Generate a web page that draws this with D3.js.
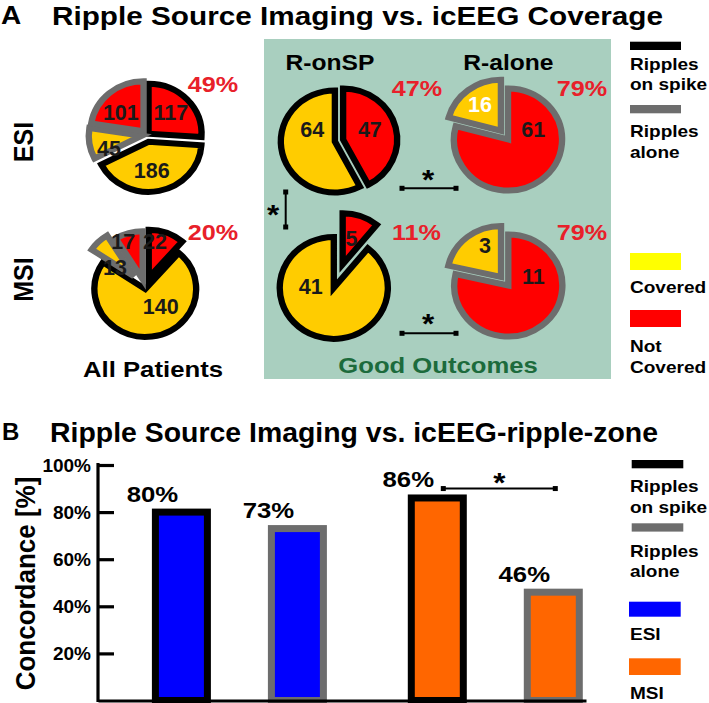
<!DOCTYPE html>
<html><head><meta charset="utf-8">
<script src="https://cdn.jsdelivr.net/npm/d3@7"></script>
<style>
body{margin:0;background:#fff}
svg{display:block}
text{font-family:"Liberation Sans",Arial,sans-serif;font-weight:bold}
</style>
</head><body>
<svg id="c" width="709" height="703"></svg>
<script>
// ---------------- DATA ----------------
// Panel A: slice order = [on-spike not covered, on-spike covered, alone covered, alone not covered]
const allKinds = ["spike", "spike", "alone", "alone"];
const allCoverage = ["not", "covered", "covered", "not"];
const esiAllPatients = [117, 186, 45, 101];
const msiAllPatients = [22, 140, 13, 17];
// Good outcomes: [not covered, covered]
const goodCoverage = ["not", "covered"];
const esiOnSpikeGood = [47, 64];
const esiAloneGood = [61, 16];
const msiOnSpikeGood = [5, 41];
const msiAloneGood = [11, 3];
const pctNotCovered = ["49%", "20%", "47%", "79%", "11%", "79%"];
const rowLabels = ["ESI", "MSI"];
const colLabels = ["R-onSP", "R-alone"];
// Panel B
const groups = ["ESI", "MSI"];
const rippleTypes = ["Ripples on spike", "Ripples alone"];
const concordanceESI = [80, 73];
const concordanceMSI = [86, 46];
const yTicks = [20, 40, 60, 80, 100];

// ---------------- STYLE / LAYOUT ----------------
const SX = 1.12;          // horizontal stretch of text in the original figure
const PSX = 1.06;         // horizontal stretch of pies
const YELLOW = "#ffcc00", RED = "#ff0000", GRAY = "#6d6d6d", BLACK = "#000";
const PCT_RED = "#e8202a";
const svg = d3.select("#c");

function txt(g, x, y, s, size, o = {}) {
  return g.append("text")
    .attr("transform", `translate(${x},${y}) scale(${o.sx ?? SX},1)` + (o.rot ? ` rotate(${o.rot})` : ""))
    .attr("text-anchor", o.anchor || "middle")
    .attr("font-size", size)
    .attr("fill", o.fill || "#000")
    .text(s);
}

// ---------------- PANEL A ----------------
txt(svg, 1, 24, "A", 25, {anchor: "start"});
svg.append("text").attr("x", 52).attr("y", 25).attr("font-size", 26.5)
  .attr("textLength", 611).attr("lengthAdjust", "spacingAndGlyphs")
  .text("Ripple Source Imaging vs. icEEG Coverage");

// green panel
svg.append("rect").attr("x", 264).attr("y", 39).attr("width", 347).attr("height", 340).attr("fill", "#a9cfbf");

const pieLayout = [
  {values: esiAllPatients, kinds: allKinds, cov: allCoverage, cx: 147, cy: 135, r: 50, off: [2, 7, 5, 5],
   lab: [[45, 31.8], [172.8, 35.3], [249.6, 38.2], [312.3, 33.4]]},
  {values: msiAllPatients, kinds: allKinds, cov: allCoverage, cx: 145, cy: 287, r: 48, off: [10, 2, 15, 8],
   lab: [[11.7, 46.3], [142.9, 24.7], [304.6, 34.4], [335.7, 49.7]]},
  {values: esiOnSpikeGood, kinds: ["spike", "spike"], cov: goodCoverage, cx: 339, cy: 140.5, r: 51, off: [4, 4],
   lab: [[68.8, 31.2], [294.2, 27.6]]},
  {values: esiAloneGood, kinds: ["alone", "alone"], cov: goodCoverage, cx: 508, cy: 139.5, r: 51, off: [0, 11],
   lab: [[66.7, 26], [323.2, 44.1]], white: [false, true]},
  {values: msiOnSpikeGood, kinds: ["spike", "spike"], cov: goodCoverage, cx: 334.5, cy: 286, r: 51, off: [23, 2],
   lab: [[18.5, 50.3], [270.5, 22.5]]},
  {values: msiAloneGood, kinds: ["alone", "alone"], cov: goodCoverage, cx: 508.3, cy: 285.5, r: 51, off: [0, 11],
   lab: [[67.7, 25.5], [331, 45.4]]}
];
const pctPos = [[213, 92], [213, 240], [417, 96], [582, 96], [416.5, 240], [582, 240]];

const pieGen = d3.pie().sort(null).value(d => d);

pieLayout.forEach((p, pi) => {
  const arcGen = d3.arc().innerRadius(0).outerRadius(p.r);
  const g = svg.append("g").attr("transform", `translate(${p.cx},${p.cy}) scale(${PSX},1)`);
  const arcs = pieGen(p.values);
  arcs.forEach((a, i) => {
    const mid = (a.startAngle + a.endAngle) / 2;
    const dx = Math.sin(mid) * p.off[i], dy = -Math.cos(mid) * p.off[i];
    g.append("path").attr("d", arcGen(a))
      .attr("transform", `translate(${dx},${dy})`)
      .attr("fill", p.cov[i] === "covered" ? YELLOW : RED)
      .attr("stroke", p.kinds[i] === "spike" ? BLACK : GRAY)
      .attr("stroke-width", 6)
      .attr("stroke-linejoin", "miter");
  });
  arcs.forEach((a, i) => {
    const [ang, r] = p.lab[i];
    const t = ang * Math.PI / 180;
    const x = p.cx + Math.sin(t) * r * PSX, y = p.cy - Math.cos(t) * r;
    txt(svg, x, y + 7.7, String(p.values[i]), 21.5, {sx: 1.0, fill: p.white && p.white[i] ? "#fff" : "#1a1a1a"});
  });
  txt(svg, pctPos[pi][0], pctPos[pi][1], pctNotCovered[pi], 22.5, {fill: PCT_RED});
});

// row / column labels
txt(svg, 33, 142, rowLabels[0], 25, {rot: -90});
txt(svg, 33, 279.5, rowLabels[1], 25, {rot: -90});
txt(svg, 153, 377, "All Patients", 23, {sx: 1.12});
txt(svg, 330, 70, colLabels[0], 22);
txt(svg, 508.4, 70, colLabels[1], 22);
txt(svg, 438, 373, "Good Outcomes", 22.5, {sx: 1.14, fill: "#1c6b3c"});

// significance brackets
function capLine(x1, y1, x2, y2) {
  svg.append("line").attr("x1", x1).attr("x2", x2).attr("y1", y1).attr("y2", y2).attr("stroke", "#000").attr("stroke-width", 2);
  [[x1, y1], [x2, y2]].forEach(([x, y]) => svg.append("rect").attr("x", x - 2.5).attr("y", y - 2.5)
    .attr("width", 5).attr("height", 5).attr("fill", "#000"));
}
function star(x, yc) { txt(svg, x, yc + 16, "*", 28); }
capLine(285.7, 192, 285.7, 227); star(273, 208);
capLine(402, 188.3, 456, 188.3); star(428, 173);
capLine(402, 333.3, 456, 333.3); star(428, 317);

// legend A
const legA = svg.append("g");
legA.append("rect").attr("x", 630).attr("y", 41.7).attr("width", 51).attr("height", 8.3).attr("fill", BLACK);
txt(legA, 630, 70, "Ripples", 17, {anchor: "start"});
txt(legA, 630, 90, "on spike", 17, {anchor: "start"});
legA.append("rect").attr("x", 630).attr("y", 105).attr("width", 51).attr("height", 8.3).attr("fill", GRAY);
txt(legA, 630, 136.7, "Ripples", 17, {anchor: "start"});
txt(legA, 630, 158, "alone", 17, {anchor: "start"});
legA.append("rect").attr("x", 630).attr("y", 253).attr("width", 51).attr("height", 17).attr("fill", "#ffff00");
txt(legA, 630, 293, "Covered", 17, {anchor: "start"});
legA.append("rect").attr("x", 630).attr("y", 310).attr("width", 51).attr("height", 17).attr("fill", RED);
txt(legA, 630, 351.7, "Not", 17, {anchor: "start"});
txt(legA, 630, 373, "Covered", 17, {anchor: "start"});

// ---------------- PANEL B ----------------
txt(svg, 2, 440, "B", 24, {anchor: "start", sx: 1.0});
svg.append("text").attr("x", 50).attr("y", 442).attr("font-size", 28)
  .attr("textLength", 608).attr("lengthAdjust", "spacingAndGlyphs")
  .text("Ripple Source Imaging vs. icEEG-ripple-zone");

const y = d3.scaleLinear().domain([0, 100]).range([700.5, 465]);
const xg = d3.scalePoint().domain(groups).range([239.4, 495.3]);
const xi = d3.scalePoint().domain(rippleTypes).range([-58, 58]);
const barData = [];
groups.forEach((g, gi) => rippleTypes.forEach((t, ti) => {
  barData.push({g, t, v: (gi === 0 ? concordanceESI : concordanceMSI)[ti]});
}));
const fillB = {ESI: "#0000ff", MSI: "#ff6600"};
const strokeB = {"Ripples on spike": BLACK, "Ripples alone": GRAY};
const bw = 52;
barData.forEach(d => {
  const cx = xg(d.g) + xi(d.t);
  svg.append("rect").attr("x", cx - bw / 2).attr("y", y(d.v)).attr("width", bw)
    .attr("height", y(0) - y(d.v)).attr("fill", fillB[d.g])
    .attr("stroke", strokeB[d.t]).attr("stroke-width", 7);
  txt(svg, cx - 29, y(d.v) - 10.5, d.v + "%", 23, {sx: 1.12});
});

// axes
const yAxis = d3.axisLeft(y).tickValues(yTicks).tickFormat(d => d + "%")
  .tickSizeInner(-16).tickSizeOuter(0).tickPadding(7);
const ya = svg.append("g").attr("transform", "translate(98,0)").call(yAxis);
ya.select(".domain").attr("stroke-width", 3.2).attr("d", `M0,${y(100) - 2}V${y(0) + 1.5}`);
ya.selectAll(".tick line").attr("stroke-width", 3.2);
ya.selectAll(".tick text").attr("font-size", 19).attr("font-family", "Liberation Sans, Arial, sans-serif")
  .attr("font-weight", "bold").attr("fill", "#000");

const xLine = d3.scaleLinear().domain([0, 1]).range([98, 586]);
const xa = svg.append("g").attr("transform", `translate(0,${y(0)})`)
  .call(d3.axisBottom(xLine).tickValues([]).tickSizeOuter(0));
xa.select(".domain").attr("stroke-width", 3.2);

txt(svg, 35, 583.5, "Concordance [%]", 26, {rot: -90, sx: 1.05});

// significance in B
{
  const x1 = xg("MSI") + xi("Ripples on spike") + 6, x2 = xg("MSI") + xi("Ripples alone") + 2;
  capLine(x1, y(90), x2, y(90));
  star((x1 + x2) / 2, 476);
}

// legend B
const legB = svg.append("g");
legB.append("rect").attr("x", 631.7).attr("y", 460).attr("width", 51.6).attr("height", 8.3).attr("fill", BLACK);
txt(legB, 630, 491.7, "Ripples", 17, {anchor: "start"});
txt(legB, 630, 513.3, "on spike", 17, {anchor: "start"});
legB.append("rect").attr("x", 631.7).attr("y", 523.3).attr("width", 51.6).attr("height", 8.3).attr("fill", GRAY);
txt(legB, 630, 556.7, "Ripples", 17, {anchor: "start"});
txt(legB, 630, 576.7, "alone", 17, {anchor: "start"});
legB.append("rect").attr("x", 629).attr("y", 601.7).attr("width", 51.7).attr("height", 15).attr("fill", "#0000ff");
txt(legB, 630, 640, "ESI", 17, {anchor: "start"});
legB.append("rect").attr("x", 629).attr("y", 658.3).attr("width", 51.7).attr("height", 16.7).attr("fill", "#ff6600");
txt(legB, 630, 699.3, "MSI", 17, {anchor: "start"});
</script>
</body></html>
